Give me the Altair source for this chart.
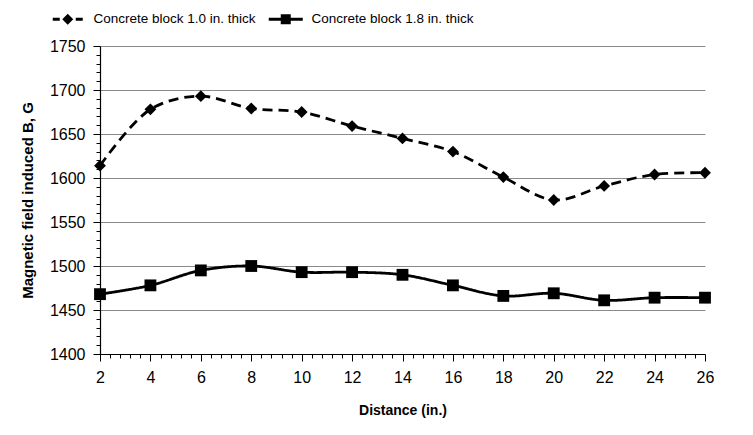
import altair as alt
import pandas as pd

distance = [2, 4, 6, 8, 10, 12, 14, 16, 18, 20, 22, 24, 26]
thin_block = [1614, 1678, 1693, 1679, 1675, 1659, 1645, 1630, 1601, 1575, 1591, 1604, 1606]
thick_block = [1468, 1478, 1495, 1500, 1493, 1493, 1490, 1478, 1466, 1469, 1461, 1464, 1464]
series_names = ["Concrete block 1.0 in. thick", "Concrete block 1.8 in. thick"]

rows = []
for d, a, b in zip(distance, thin_block, thick_block):
    rows.append({"distance": d, "value": a, "series": series_names[0]})
    rows.append({"distance": d, "value": b, "series": series_names[1]})
df = pd.DataFrame(rows)

FONT = "Liberation Sans"

x_ticks = [round(2 + 0.4 * i, 1) for i in range(61)]
y_ticks = list(range(1400, 1751, 10))

x_enc = alt.X(
    "distance:Q",
    scale=alt.Scale(domain=[2, 26], nice=False, zero=False),
    axis=alt.Axis(
        values=x_ticks,
        tickCount=len(x_ticks),
        labelExpr="abs(datum.value % 2) < 0.001 ? format(datum.value, 'd') : ''",
        labelOverlap=False,
        labelFlush=False,
        tickSize={"condition": {"test": "abs(datum.value % 2) < 0.001", "value": 7}, "value": 4},
        grid=False,
        title="Distance (in.)",
        titlePadding=18,
        labelPadding=8,
    ),
)
y_enc = alt.Y(
    "value:Q",
    scale=alt.Scale(domain=[1400, 1750], nice=False, zero=False),
    axis=alt.Axis(
        values=y_ticks,
        tickCount=len(y_ticks),
        labelExpr="datum.value % 50 === 0 ? format(datum.value, 'd') : ''",
        labelOverlap=False,
        labelFlush=False,
        tickSize={"condition": {"test": "datum.value % 50 === 0", "value": 7}, "value": 4},
        grid=True,
        gridColor="#8a8a8a",
        gridWidth=1.2,
        gridOpacity={"condition": {"test": "datum.value % 50 === 0 && datum.value > 1400", "value": 1}, "value": 0},
        title="Magnetic field induced B, G",
        titleFontSize=15,
        titlePadding=14,
        labelPadding=8,
    ),
)

base = alt.Chart(df)

line = base.mark_line(interpolate="catmull-rom", color="black", strokeWidth=2.8).encode(
    x=x_enc,
    y=y_enc,
    strokeDash=alt.StrokeDash(
        "series:N",
        scale=alt.Scale(domain=series_names, range=[[10, 6], [1, 0]]),
        legend=None,
    ),
)

points = base.mark_point(filled=True, color="black", opacity=1, size=140).encode(
    x=x_enc,
    y=y_enc,
    shape=alt.Shape(
        "series:N",
        scale=alt.Scale(domain=series_names, range=["diamond", "square"]),
        legend=None,
    ),
)

path_dashed = "M-3,-0.3H-1.6V0.3H-3Z M-1.1,0L0,-1.1L1.1,0L0,1.1Z M1.6,-0.3H3V0.3H1.6Z"
path_solid = "M-3.4,-0.3H3.4V0.3H-3.4Z M-1,-1H1V1H-1Z"

legend_layer = base.mark_point(filled=True, color="black", opacity=0, size=100).encode(
    x=x_enc,
    y=y_enc,
    shape=alt.Shape(
        "series:N",
        scale=alt.Scale(domain=series_names, range=[path_dashed, path_solid]),
        legend=alt.Legend(
            orient="none",
            legendX=-54,
            legendY=-34,
            direction="horizontal",
            title=None,
            labelFont=FONT,
            labelFontSize=13.5,
            labelColor="black",
            labelLimit=0,
            symbolSize=100,
            symbolOpacity=1,
            symbolFillColor="black",
            symbolStrokeColor="black",
            symbolStrokeWidth=0,
            symbolOffset=15,
            labelOffset=19,
            columnPadding=8,
        ),
    ),
)

chart = (
    alt.layer(line, points, legend_layer)
    .resolve_scale(shape="independent")
    .properties(
        width=605,
        height=308,
        autosize=alt.AutoSizeParams(type="none"),
        padding={"left": 92, "top": 38, "right": 40, "bottom": 73},
        background="white",
    )
    .configure_view(stroke=None)
    .configure_axis(
        labelFont=FONT,
        labelFontSize=16,
        labelColor="black",
        titleFont=FONT,
        titleFontSize=14,
        titleFontWeight="bold",
        titleColor="black",
        domainColor="black",
        domainWidth=1.2,
        tickColor="black",
        tickWidth=1,
    )
)

chart.save("out.html", embed_options={"renderer": "svg", "actions": False})
